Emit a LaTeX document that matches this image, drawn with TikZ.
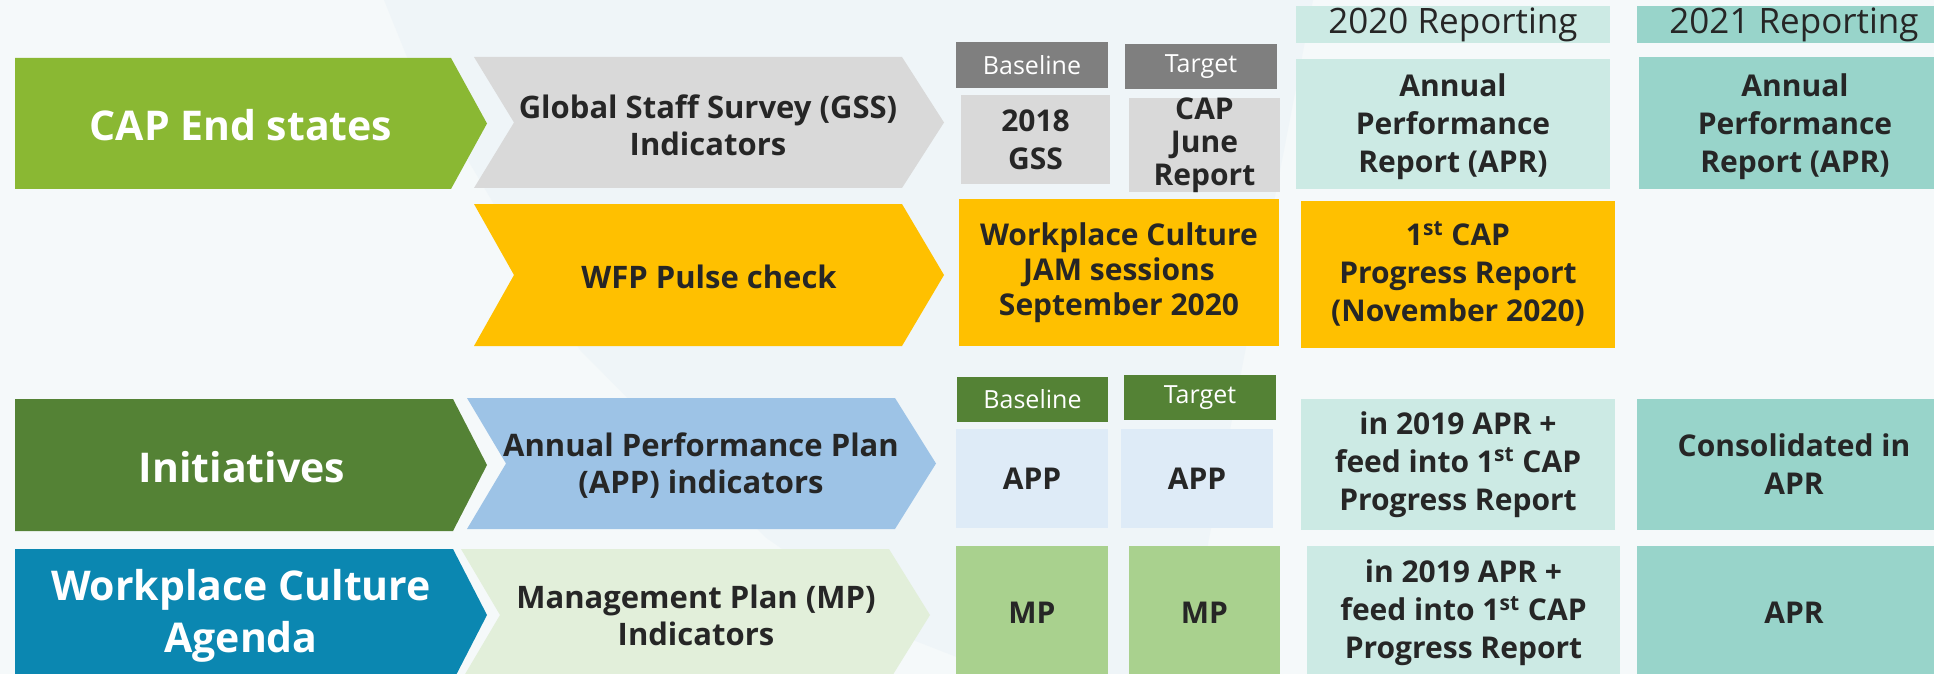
\documentclass[tikz,border=0pt]{standalone}
\usepackage{fontspec}
\setmainfont{Open Sans}

\definecolor{bgpale}{HTML}{F5F9FA}
\definecolor{bgband}{HTML}{EFF5F8}
\definecolor{capgreen}{HTML}{8AB833}
\definecolor{initgreen}{HTML}{548235}
\definecolor{wcablue}{HTML}{0B87B1}
\definecolor{gssgrey}{HTML}{D9D9D9}
\definecolor{hdrgrey}{HTML}{7F7F7F}
\definecolor{pulseyellow}{HTML}{FFC000}
\definecolor{appblue}{HTML}{9DC3E6}
\definecolor{appcell}{HTML}{DEEBF7}
\definecolor{mpchev}{HTML}{E2EFDA}
\definecolor{mpcell}{HTML}{A9D18E}
\definecolor{rep20}{HTML}{CCEAE4}
\definecolor{rep21}{HTML}{98D4CA}
\definecolor{ink}{HTML}{262626}

\tikzset{
	bigtag/.style={text=white, font=\bfseries\fontsize{20.5}{26}\selectfont, align=center},
	chevtext/.style={text=ink, font=\bfseries\fontsize{15.5}{18.5}\selectfont, align=center},
	cellbox/.style={text=ink, font=\bfseries\fontsize{15}{19}\selectfont, align=center, inner sep=0pt},
	colhead/.style={text=white, font=\fontsize{12.5}{15}\selectfont, align=center, inner sep=0pt},
	yearhead/.style={text=ink, font=\fontsize{17.5}{20}\selectfont, align=center, inner sep=0pt},
}

\begin{document}
\begin{tikzpicture}[x=0.5pt,y=0.5pt,yscale=-1,xscale=1]
	\useasboundingbox (0,0) rectangle (1934,674);
	\clip (0,0) rectangle (1934,674);
	\fill[bgpale] (0,0) rectangle (1934,674);
	\fill[bgband] (384,0) -- (1313,0) -- (1208,544) -- (1185,674) -- (1000,674) -- (913,640) -- (765,537) -- (580,350) -- (407,57) -- cycle;

	% left tags
	\fill[capgreen] (15,58) -- (451,58) -- (487,123.5) -- (451,189) -- (15,189) -- cycle;
	\fill[initgreen] (15,399) -- (453,399) -- (487,465) -- (453,531) -- (15,531) -- cycle;
	\fill[wcablue] (15,549) -- (453,549) -- (487,615) -- (453,681) -- (15,681) -- cycle;
	\node[bigtag] (capend) at (241,125) {CAP End states};
	\node[bigtag] (initiatives) at (242,467) {Initiatives};
	\node[bigtag] (wcagenda) at (241,616) {Workplace Culture\\Agenda};

	% chevrons
	\fill[gssgrey] (474,57) -- (902,57) -- (944,122.5) -- (902,188) -- (474,188) -- (514,122.5) -- cycle;
	\fill[pulseyellow] (474,204) -- (902,204) -- (944,275) -- (902,346) -- (474,346) -- (514,275) -- cycle;
	\fill[appblue] (467,398) -- (895,398) -- (936,463.5) -- (895,529) -- (467,529) -- (506,463.5) -- cycle;
	\fill[mpchev] (461,549) -- (889,549) -- (930,615) -- (889,681) -- (461,681) -- (500,615) -- cycle;
	\node[chevtext] (gssind) at (708,125) {Global Staff Survey (GSS)\\Indicators};
	\node[chevtext] (pulse) at (709,277) {WFP Pulse check};
	\node[chevtext] (appind) at (701,466) {Annual Performance Plan\\(APP) indicators};
	\node[chevtext] (mpind) at (696,615) {Management Plan (MP)\\Indicators};

	% column heads
	\node[colhead, fill=hdrgrey, minimum width=76pt, minimum height=23pt] (baseA) at (1032,65) {Baseline};
	\node[colhead, fill=hdrgrey, minimum width=76pt, minimum height=22.5pt] (targA) at (1201,66.5) {Target};
	\node[colhead, fill=initgreen, minimum width=75.5pt, minimum height=22.5pt] (baseB) at (1032.5,399.5) {Baseline};
	\node[colhead, fill=initgreen, minimum width=76pt, minimum height=22.5pt] (targB) at (1200,397.5) {Target};
	\node[yearhead, fill=rep20, minimum width=157pt, minimum height=18.5pt] (rep2020) at (1453,24.5) {2020 Reporting};
	\node[yearhead, fill=rep21, minimum width=157pt, minimum height=18.5pt] (rep2021) at (1794,24.5) {2021 Reporting};

	% first row
	\node[cellbox, fill=gssgrey, minimum width=74.5pt, minimum height=44.5pt] (gss18) at (1035.5,139.5) {2018\\GSS};
	\node[cellbox, fill=gssgrey, minimum width=75.5pt, minimum height=45pt, font=\bfseries\fontsize{15}{16.5}\selectfont] (capjune) at (1204.5,145) {CAP\\June\\Report};
	\node[cellbox, fill=rep20, minimum width=157pt, minimum height=65pt] (apr20) at (1453,124) {};
	\node[cellbox, fill=rep21, minimum width=156pt, minimum height=66pt] (apr21) at (1795,123) {};
	\node[cellbox] (apr20txt) at (1453,127) {Annual\\Performance\\Report (APR)};
	\node[cellbox] (apr21txt) at (1795,127) {Annual\\Performance\\Report (APR)};

	% second row
	\node[cellbox, fill=pulseyellow, minimum width=160pt, minimum height=73.5pt, font=\bfseries\fontsize{15}{17.5}\selectfont] (jam) at (1119,272.5) {Workplace Culture\\JAM sessions\\September 2020};
	\node[cellbox, fill=pulseyellow, minimum width=157pt, minimum height=73.5pt] (firstcap) at (1458,274) {1\textsuperscript{st} CAP\\Progress Report\\(November 2020)};

	% third row
	\node[cellbox, fill=appcell, minimum width=76pt, minimum height=49.5pt] (appA) at (1032,478.5) {APP};
	\node[cellbox, fill=appcell, minimum width=76pt, minimum height=49.5pt] (appB) at (1197,478.5) {APP};
	\node[cellbox, fill=rep20, minimum width=157pt, minimum height=65.5pt] (inaprA) at (1458,464.5) {in 2019 APR +\\feed into 1\textsuperscript{st} CAP\\Progress Report};
	\node[cellbox, fill=rep21, minimum width=157pt, minimum height=65.5pt] (consol) at (1794,464.5) {Consolidated in\\APR};

	% fourth row
	\node[cellbox, fill=mpcell, minimum width=76pt, minimum height=72pt] (mpA) at (1032,618) {};
	\node[cellbox, fill=mpcell, minimum width=75.5pt, minimum height=72pt] (mpB) at (1204.5,618) {};
	\node[cellbox, fill=rep20, minimum width=156.5pt, minimum height=72pt] (inaprB) at (1463.5,618) {};
	\node[cellbox, fill=rep21, minimum width=157pt, minimum height=72pt] (aprfinal) at (1794,618) {};
	\node[cellbox] (mpAtxt) at (1032,613) {MP};
	\node[cellbox] (mpBtxt) at (1204.5,613) {MP};
	\node[cellbox] (inaprBtxt) at (1463.5,613) {in 2019 APR +\\feed into 1\textsuperscript{st} CAP\\Progress Report};
	\node[cellbox] (aprtxt) at (1794,613) {APR};
\end{tikzpicture}
\end{document}
